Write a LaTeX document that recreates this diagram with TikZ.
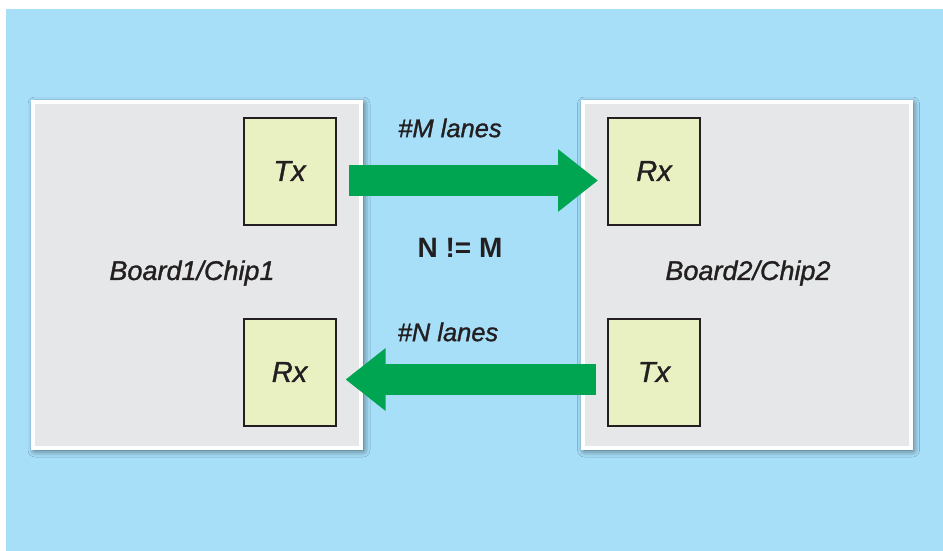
\documentclass[tikz,border=0pt]{standalone}
\usepackage{fontspec}
\setmainfont{Liberation Sans}
\newfontfamily\medfont[FakeBold=1.2]{Liberation Sans}
\usepackage{tikz}
\usetikzlibrary{arrows.meta, positioning, shadows.blur}

\definecolor{skyblue}{HTML}{A7DFF9}
\definecolor{boardgray}{HTML}{E6E7E8}
\definecolor{chipfill}{HTML}{E9F1C3}
\definecolor{lanegreen}{HTML}{00A551}
\definecolor{inkdark}{HTML}{231F20}

\begin{document}
\begin{tikzpicture}[
  x=1pt, y=-1pt,
  board/.style={rectangle, draw=white, line width=4pt, fill=boardgray, minimum width=328pt, minimum height=346pt, inner sep=0pt,
    blur shadow={shadow xshift=2pt, shadow yshift=-2pt, shadow blur radius=7pt, shadow opacity=65}},
  chip/.style={rectangle, draw=inkdark, line width=2pt, fill=chipfill, minimum width=92pt, minimum height=107pt, inner sep=0pt,
    text=inkdark, font=\fontsize{29}{33}\medfont\itshape},
  lbl/.style={text=inkdark, inner sep=1pt, font=\fontsize{25.5}{29}\medfont\itshape},
  blbl/.style={text=inkdark, inner sep=1pt, font=\fontsize{27}{31}\medfont\itshape},
  lane/.style={draw=lanegreen, line width=31pt, -{Triangle[length=40pt, width=60pt]}}
]
  \useasboundingbox (0,0) rectangle (943,551);
  \fill[skyblue] (6,9) rectangle (943,551);

  % boards
  \node[board] (board1) at (197,275) {};
  \node[board] (board2) at (746.5,275) {};
  \node[blbl] (name1) at (192,273) {Board1/Chip1};
  \node[blbl] (name2) at (748,273) {Board2/Chip2};

  % transmit / receive blocks
  \node[chip] (tx1) at (289.5,171) {Tx};
  \node[chip] (rx1) at (289.5,372) {Rx};
  \node[chip] (rx2) at (654,171) {Rx};
  \node[chip] (tx2) at (654,372) {Tx};

  % lanes
  \draw[lane, shorten <=12pt, shorten >=9pt] ([yshift=-9.5pt]tx1.east) -- ([yshift=-9.5pt]rx2.west);
  \draw[lane, shorten <=11pt, shorten >=9pt] ([yshift=-7.5pt]tx2.west) -- ([yshift=-7.5pt]rx1.east);

  \node[lbl] (mlanes) at (450,128) {\#M lanes};
  \node[lbl] (nlanes) at (448,332) {\#N lanes};
  \node[text=inkdark, font=\fontsize{28}{32}\selectfont\bfseries] (neq) at (460,248) {N != M};
\end{tikzpicture}
\end{document}
